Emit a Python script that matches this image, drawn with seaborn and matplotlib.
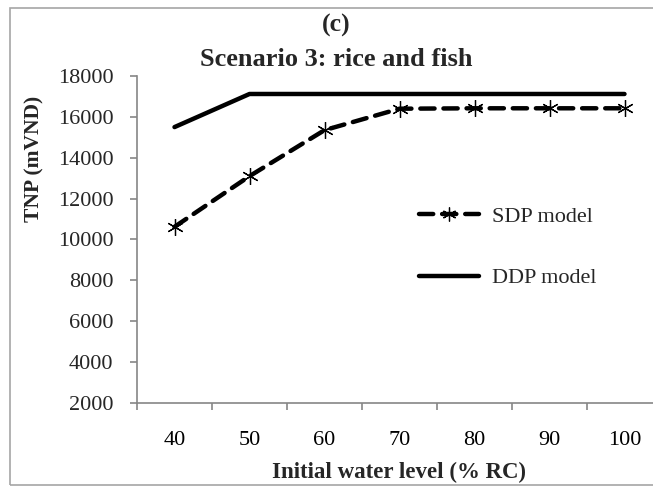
import numpy as np
import pandas as pd
import matplotlib
matplotlib.use("Agg")
import matplotlib.pyplot as plt
import seaborn as sns
from matplotlib.patches import Rectangle
from matplotlib.lines import Line2D

water_levels = ["40", "50", "60", "70", "80", "90", "100"]
sdp_values = [10620, 13100, 15350, 16400, 16420, 16420, 16420]
ddp_values = [15500, 17120, 17120, 17120, 17120, 17120, 17120]
y_ticks = [2000, 4000, 6000, 8000, 10000, 12000, 14000, 16000, 18000]

sns.set_theme(style="white")
plt.rcParams['font.family'] = ['Liberation Serif', 'DejaVu Serif']

W, H = 653, 486
fig = plt.figure(figsize=(W / 100, H / 100), dpi=100)

# outer chart border
fig.patches.append(Rectangle((10 / W, 1 / H), 2.0, (485 - 8) / H, transform=fig.transFigure,
                             fill=False, edgecolor="#a6a6a6", linewidth=1.2, zorder=0))

ax = fig.add_axes([137 / W, (H - 403) / H, (662 - 137) / W, (403 - 76) / H])
ax.set_facecolor("none")

pos = np.arange(len(water_levels))
df = pd.DataFrame({"pos": np.concatenate([pos, pos]),
                   "value": sdp_values + ddp_values,
                   "model": ["SDP model"] * len(pos) + ["DDP model"] * len(pos)})

sns.lineplot(data=df[df.model == "DDP model"], x="pos", y="value", ax=ax, color="black",
             linewidth=3.2, solid_capstyle="round", label="_nolegend_", zorder=3)
sns.lineplot(data=df[df.model == "SDP model"], x="pos", y="value", ax=ax, color="black",
             linewidth=3.2, dashes=False, label="_nolegend_", zorder=4)
sdp_line = ax.get_lines()[-1]
sdp_line.set_linestyle((0, (3.2, 2.0)))
sdp_line.set_dash_capstyle("round")
sdp_line.set_marker((6, 2, 0))
sdp_line.set_markersize(12)
sdp_line.set_markeredgewidth(0.9)
sdp_line.set_markeredgecolor("black")

ax.set_xlim(-0.5, len(water_levels) - 0.5)
ax.set_ylim(2000, 18000)
ax.set_yticks(y_ticks)
ax.set_yticklabels([str(v) for v in y_ticks], fontsize=16)
ax.set_xticks(pos)
ax.set_xticklabels(water_levels, fontsize=16)
ax.set_xticks(np.arange(-0.5, len(water_levels), 1.0), minor=True)
ax.tick_params(axis="x", which="major", length=0, pad=20, colors="black")
ax.tick_params(axis="x", which="minor", length=5, width=1.2, color="#868686", direction="out", bottom=True)
ax.tick_params(axis="y", which="major", length=5, width=1.2, color="#868686", direction="out", left=True, pad=12)
ax.set_xlabel("")
ax.set_ylabel("")
for s in ["top", "right"]:
    ax.spines[s].set_visible(False)
for s in ["left", "bottom"]:
    ax.spines[s].set_color("#868686")
    ax.spines[s].set_linewidth(1.2)
ax.grid(False)

handles = [Line2D([], [], color="black", linewidth=3.2, linestyle=(0, (3.2, 2.0)),
                  marker=(6, 2, 0), markersize=10, markeredgewidth=0.9, dash_capstyle="round"),
           Line2D([], [], color="black", linewidth=3.2, solid_capstyle="round")]
leg = fig.legend(handles, ["SDP model", "DDP model"], loc="upper left",
                 bbox_to_anchor=(408 / W, 1 - 195 / H), frameon=False, fontsize=16,
                 handlelength=2.7, handletextpad=0.6, labelspacing=1.85, borderpad=0)

fig.text(336 / W, 1 - 25 / H, "(c)", ha="center", va="center", fontsize=18.5, fontweight="bold")
fig.text(336 / W, 1 - 59 / H, "Scenario 3: rice and fish", ha="center", va="center",
         fontsize=19, fontweight="bold")
fig.text(34 / W, 1 - 159 / H, "TNP (mVND)", rotation=90, ha="center", va="center",
         fontsize=15.5, fontweight="bold")
fig.text(399 / W, 1 - 472 / H, "Initial water level (% RC)", ha="center", va="center",
         fontsize=16.5, fontweight="bold")

fig.savefig("out.png", dpi=100)
